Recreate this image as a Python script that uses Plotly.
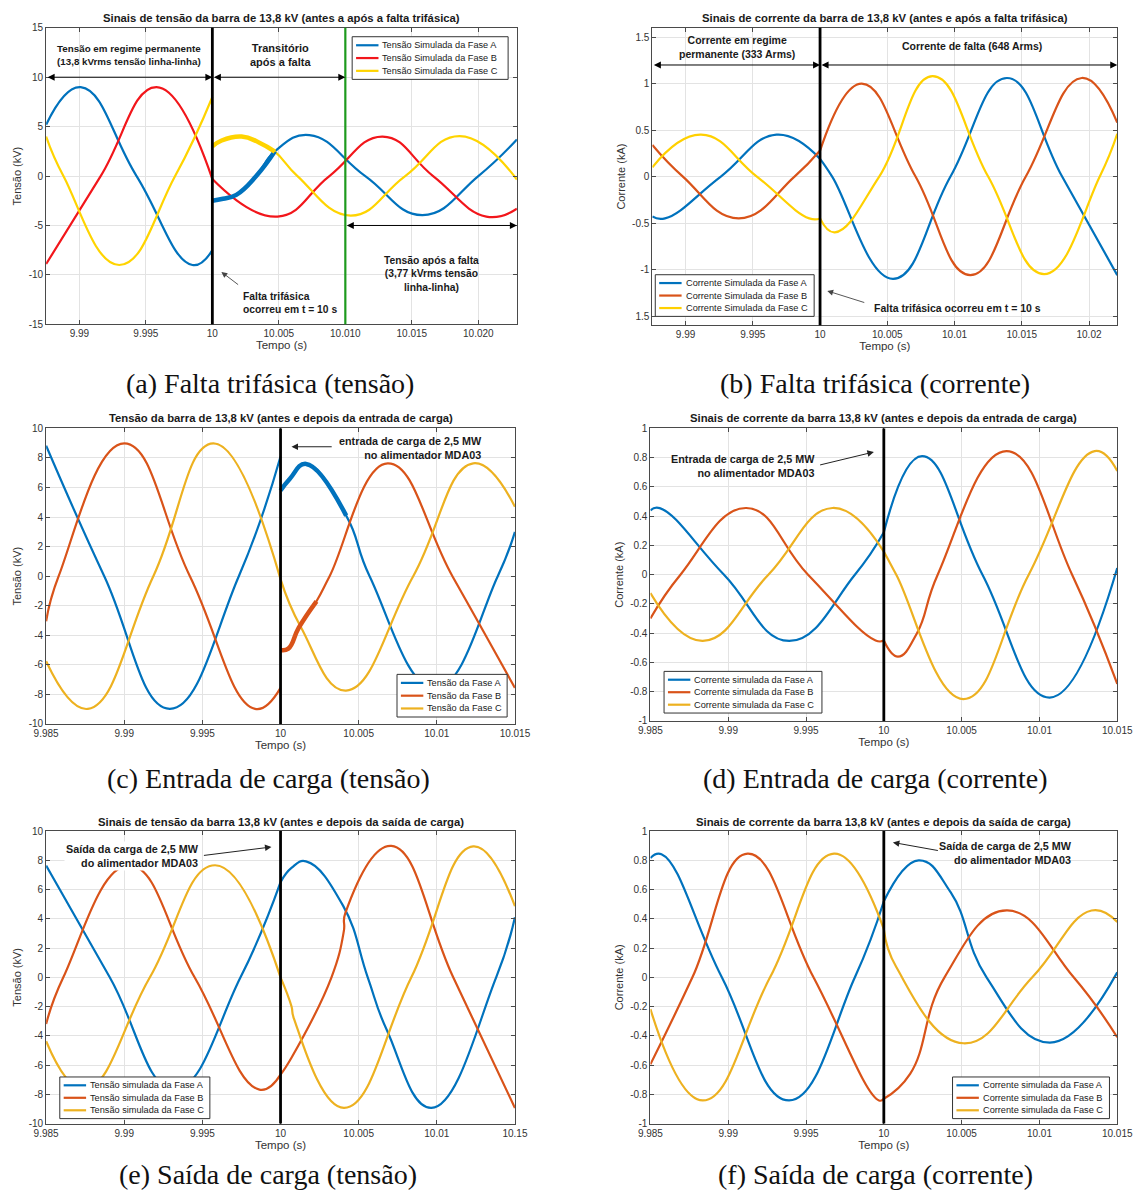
import plotly.graph_objects as go

W, H = 1143, 1197
FONT = "Liberation Sans, Arial, sans-serif"
SERIF = "Liberation Serif, Times New Roman, serif"

FAULT_T = 10.0          # instant of the event (s)
POST_FAULT_T = 10.010   # end of transient marker in (a)

# ------------------------------------------------------------------ data
# (a) three-phase fault, voltage (kV) -- (time s, value)
a_A_pre = [(9.9875, 5.2), (9.9901, 9.0), (9.9943, 0.0), (9.9985, -9.0), (10.0, -7.5)]
a_A_post = [(10.0, -2.5), (10.0008, -2.3), (10.0018, -1.9), (10.0033, 0.0), (10.0047, 2.5),
            (10.0073, 4.15), (10.0115, 0.0), (10.0158, -3.95), (10.0200, 0.0), (10.0229, 3.7)]
a_B_pre = [(9.9875, -8.9), (9.9916, 0.0), (9.9958, 9.0), (10.0, -0.3)]
a_B_post = [(10.0, -0.3), (10.0049, -4.1), (10.0088, 0.0), (10.0128, 4.0), (10.0166, 0.0),
            (10.0206, -4.1), (10.0229, -3.3)]
a_C_pre = [(9.9875, 4.0), (9.9888, 0.0), (9.9930, -9.0), (9.9972, 0.0), (10.0, 8.0)]
a_C_post = [(10.0, 3.0), (10.0007, 3.6), (10.0022, 4.0), (10.0035, 3.4), (10.0047, 2.47),
            (10.0064, 0.0), (10.0104, -4.0), (10.0145, 0.0), (10.0186, 4.05), (10.0229, -0.35)]

# (b) three-phase fault, current (kA)
b_A_pre = [(9.98753, -0.43), (9.98847, -0.45), (9.99262, 0.0), (9.99676, 0.45), (10.0, 0.19)]
b_A_post = [(10.0, 0.19), (10.0009, 0.0), (10.00543, -1.10), (10.0097, 0.0), (10.0139, 1.06),
            (10.0180, 0.0), (10.0221, -1.06)]
b_B_pre = [(9.98753, 0.34), (9.9898, 0.0), (9.99395, -0.45), (9.9981, 0.0), (10.0, 0.28)]
b_B_post = [(10.0, 0.28), (10.0031, 1.0), (10.0071, 0.0), (10.01117, -1.06), (10.0153, 0.0),
            (10.01946, 1.06), (10.0221, 0.58)]
b_C_pre = [(9.98753, 0.1), (9.99115, 0.45), (9.9953, 0.0), (9.9992, -0.45), (10.0, -0.45)]
b_C_post = [(10.0, -0.45), (10.0011, -0.6), (10.0044, 0.0), (10.00837, 1.08), (10.0125, 0.0),
            (10.01666, -1.05), (10.0208, 0.0), (10.0221, 0.46)]

# (c) load connection, voltage (kV)
c_A_pre = [(9.985, 8.83), (9.98872, 0.0), (9.99291, -8.98), (9.99733, 0.0), (10.0, 8.1)]
c_A_post = [(10.0, 5.8), (10.0006, 6.6), (10.00163, 7.6), (10.0042, 4.1), (10.0057, 0.0),
            (10.0099, -7.6), (10.0139, 0.0), (10.015, 3.0)]
c_B_pre = [(9.985, -3.05), (9.9858, 0.0), (9.99, 8.99), (9.9942, 0.0), (9.99837, -8.98), (10.0, -7.56)]
c_B_post = [(10.0, -5.0), (10.0005, -4.9), (10.00116, -3.5), (10.0023, -1.7), (10.00314, 0.0),
            (10.00686, 7.64), (10.0110, 0.0), (10.015, -7.56)]
c_C_pre = [(9.985, -5.76), (9.98767, -8.98), (9.99186, 0.0), (9.9957, 8.99), (10.0, -0.2)]
c_C_post = [(10.0, -0.2), (10.00128, -3.4), (10.00419, -7.74), (10.00849, 0.0), (10.01233, 7.64),
            (10.015, 4.7)]

# (d) load connection, current (kA)
d_A_pre = [(9.985, 0.44), (9.9856, 0.455), (9.98973, 0.0), (9.99392, -0.453), (9.99814, 0.0), (10.0, 0.29)]
d_A_post = [(10.0, 0.29), (10.00246, 0.81), (10.00634, 0.0), (10.01066, -0.84), (10.015, 0.046)]
d_B_pre = [(9.985, -0.30), (9.98693, 0.0), (9.99116, 0.456), (9.99513, 0.0), (9.99947, -0.45), (10.0, -0.45)]
d_B_post = [(10.0, -0.45), (10.00091, -0.56), (10.00213, -0.40), (10.00346, 0.0), (10.00789, 0.845),
            (10.0121, 0.0), (10.015, -0.747)]
d_C_pre = [(9.985, -0.126), (9.98837, -0.453), (9.99258, 0.0), (9.9967, 0.456), (10.0, 0.158)]
d_C_post = [(10.0, 0.158), (10.0008, 0.0), (10.00511, -0.85), (10.00931, 0.0), (10.01355, 0.845),
            (10.015, 0.709)]

# (e) load disconnection, voltage (kV)
e_A_pre = [(9.985, 7.64), (9.98907, 0.0), (9.9932, -7.65), (9.99744, 0.0), (10.0, 6.5)]
e_A_post = [(10.0, 6.5), (10.0007, 7.48), (10.00163, 7.93), (10.0040, 4.9), (10.00558, 0.0),
            (10.0068, -3.6), (10.00965, -8.93), (10.0138, 0.0), (10.015, 4.11)]
e_B_pre = [(9.985, -3.19), (9.9861, 0.0), (9.9903, 7.65), (9.9945, 0.0), (9.99865, -7.68), (10.0, -6.65)]
e_B_post = [(10.0, -6.65), (10.0007, -5.5), (10.00326, 0.0), (10.00405, 3.16), (10.00415, 4.4),
            (10.00709, 8.98), (10.01105, 0.0), (10.015, -8.93)]
e_C_pre = [(9.985, -4.37), (9.98747, -7.65), (9.99164, 0.0), (9.99581, 7.66), (10.0, 0.0)]
e_C_post = [(10.0, 0.0), (10.0007, -1.98), (10.00085, -2.8), (10.00407, -8.93), (10.00837, 0.0),
            (10.01233, 8.95), (10.015, 4.86)]

# (f) load disconnection, current (kA)
f_A_pre = [(9.985, 0.815), (9.98571, 0.842), (9.98959, 0.0), (9.99391, -0.842), (9.99814, 0.0), (10.0, 0.52)]
f_A_post = [(10.0, 0.52), (10.00224, 0.80), (10.0043, 0.58), (10.0066, 0.0), (10.01067, -0.446),
            (10.015, 0.034)]
f_B_pre = [(9.985, -0.595), (9.9877, 0.0), (9.99125, 0.845), (9.99548, 0.0), (9.99969, -0.842), (10.0, -0.83)]
f_B_post = [(10.0, -0.83), (10.00169, -0.66), (10.0039, 0.0), (10.00789, 0.457), (10.0122, 0.0),
            (10.015, -0.41)]
f_C_pre = [(9.985, -0.217), (9.98837, -0.842), (9.99269, 0.0), (9.9968, 0.845), (10.0, 0.33)]
f_C_post = [(10.0, 0.33), (10.0008, 0.07), (10.00512, -0.451), (10.00954, 0.0), (10.01335, 0.457),
            (10.015, 0.378)]

# ticks
a_xticks = [9.99, 9.995, 10.0, 10.005, 10.010, 10.015, 10.020]
a_xlabels = ["9.99", "9.995", "10", "10.005", "10.010", "10.015", "10.020"]
a_yticks = [-15, -10, -5, 0, 5, 10, 15]
a_ylabels = ["-15", "-10", "-5", "0", "5", "10", "15"]
b_xticks = [9.99, 9.995, 10.0, 10.005, 10.01, 10.015, 10.02]
b_xlabels = ["9.99", "9.995", "10", "10.005", "10.01", "10.015", "10.02"]
b_yticks = [-1.5, -1, -0.5, 0, 0.5, 1, 1.5]
b_ylabels = ["1.5", "-1", "-0.5", "0", "0.5", "1", "1.5"]
cdf_xticks = [9.985, 9.99, 9.995, 10.0, 10.005, 10.01, 10.015]
cdf_xlabels = ["9.985", "9.99", "9.995", "10", "10.005", "10.01", "10.015"]
e_xlabels = ["9.985", "9.99", "9.995", "10", "10.005", "10.01", "10.15"]
ce_yticks = [-10, -8, -6, -4, -2, 0, 2, 4, 6, 8, 10]
ce_ylabels = ["-10", "-8", "-6", "-4", "-2", "0", "2", "4", "6", "8", "10"]
df_yticks = [-1, -0.8, -0.6, -0.4, -0.2, 0, 0.2, 0.4, 0.6, 0.8, 1]
df_ylabels = ["-1", "-0.8", "-0.6", "-0.4", "-0.2", "0", "0.2", "0.4", "0.6", "0.8", "1"]

titles = {
    "a": "Sinais de tensão da barra de 13,8 kV (antes a após a falta trifásica)",
    "b": "Sinais de corrente da barra de 13,8 kV (antes e após a falta trifásica)",
    "c": "Tensão da barra de 13,8 kV (antes e depois da entrada de carga)",
    "d": "Sinais de corrente da barra 13,8 kV (antes e depois da entrada de carga)",
    "e": "Sinais de tensão da barra 13,8 kV (antes e depois da saída de carga)",
    "f": "Sinais de corrente da barra 13,8 kV (antes e depois da saída de carga)",
}
captions = {
    "a": "(a) Falta trifásica (tensão)",
    "b": "(b) Falta trifásica (corrente)",
    "c": "(c) Entrada de carga (tensão)",
    "d": "(d) Entrada de carga (corrente)",
    "e": "(e) Saída de carga (tensão)",
    "f": "(f) Saída de carga (corrente)",
}
names = {
    "a": ["Tensão Simulada da Fase A", "Tensão Simulada da Fase B", "Tensão Simulada da Fase C"],
    "b": ["Corrente Simulada da Fase A", "Corrente Simulada da Fase B", "Corrente Simulada da Fase C"],
    "c": ["Tensão da Fase A", "Tensão da Fase B", "Tensão da Fase C"],
    "d": ["Corrente simulada da Fase A", "Corrente simulada da Fase B", "Corrente simulada da Fase C"],
    "e": ["Tensão simulada da Fase A", "Tensão simulada da Fase B", "Tensão simulada da Fase C"],
    "f": ["Corrente simulada da Fase A", "Corrente simulada da Fase B", "Corrente simulada da Fase C"],
}

MATLAB = ["#0072BD", "#D95319", "#EDB120"]
colors = {
    "a": ["#0072BD", "#F2161B", "#FFD400"],
    "b": ["#0072BD", "#D95319", "#FFD000"],
    "c": MATLAB, "d": MATLAB, "e": MATLAB, "f": MATLAB,
}

series = {
    "a": [(a_A_pre, a_A_post), (a_B_pre, a_B_post), (a_C_pre, a_C_post)],
    "b": [(b_A_pre, b_A_post), (b_B_pre, b_B_post), (b_C_pre, b_C_post)],
    "c": [(c_A_pre, c_A_post), (c_B_pre, c_B_post), (c_C_pre, c_C_post)],
    "d": [(d_A_pre, d_A_post), (d_B_pre, d_B_post), (d_C_pre, d_C_post)],
    "e": [(e_A_pre, e_A_post), (e_B_pre, e_B_post), (e_C_pre, e_C_post)],
    "f": [(f_A_pre, f_A_post), (f_B_pre, f_B_post), (f_C_pre, f_C_post)],
}
# noisy transient portions (panel, phase index, number of leading post points)
noisy = [("a", 0, 5), ("a", 2, 5), ("c", 0, 4), ("c", 1, 4)]

# ------------------------------------------------------------------ layout geometry (pixels)
panels = {
    "a": dict(n=1, box=(34, 517, 23, 322), xr=[9.9875, 10.0229], yr=[-15, 15],
              xt=a_xticks, xl=a_xlabels, yt=a_yticks, yl=a_ylabels, yt_title="Tensão (kV)"),
    "b": dict(n=2, box=(656, 1133, 23, 323), xr=[9.98753, 10.0221], yr=[-1.6, 1.6],
              xt=b_xticks, xl=b_xlabels, yt=b_yticks, yl=b_ylabels, yt_title="Corrente (kA)"),
    "c": dict(n=3, box=(34, 515, 427, 725), xr=[9.985, 10.015], yr=[-10, 10],
              xt=cdf_xticks, xl=cdf_xlabels, yt=ce_yticks, yl=ce_ylabels, yt_title="Tensão (kV)"),
    "d": dict(n=4, box=(654, 1133, 427, 722), xr=[9.985, 10.015], yr=[-1, 1],
              xt=cdf_xticks, xl=cdf_xlabels, yt=df_yticks, yl=df_ylabels, yt_title="Corrente (kA)"),
    "e": dict(n=5, box=(34, 515, 833, 1128), xr=[9.985, 10.015], yr=[-10, 10],
              xt=cdf_xticks, xl=e_xlabels, yt=ce_yticks, yl=ce_ylabels, yt_title="Tensão (kV)"),
    "f": dict(n=6, box=(654, 1133, 833, 1128), xr=[9.985, 10.015], yr=[-1, 1],
              xt=cdf_xticks, xl=cdf_xlabels, yt=df_yticks, yl=df_ylabels, yt_title="Corrente (kA)"),
}
title_y = {"a": 13, "b": 13, "c": 416, "d": 416, "e": 824, "f": 824}
caption_pos = {"a": (264, 382), "b": (884, 382), "c": (262, 780), "d": (885, 780),
               "e": (262, 1179), "f": (885, 1179)}
legend_box = {  # pixel x0, x1, y0, y1
    "a": (348, 508, 32, 75),
    "b": (659, 822, 272, 314),
    "c": (394, 507, 675, 718),
    "d": (668, 830, 672, 714),
    "e": (48, 202, 1081, 1123),
    "f": (964, 1125, 1081, 1123),
}


def ref(n):
    return ("x" if n == 1 else f"x{n}"), ("y" if n == 1 else f"y{n}")


def px(x):
    return x / W


def py(y):
    return 1 - y / H


fig = go.Figure()
layout = dict(width=W, height=H, margin=dict(l=0, r=0, t=0, b=0),
              paper_bgcolor="white", plot_bgcolor="white", showlegend=False,
              hovermode=False)
annotations = []
shapes = []

for key, p in panels.items():
    n = p["n"]
    xr_, yr_ = ref(n)
    x0, x1, y0, y1 = p["box"]
    # traces
    for i, (pre, post) in enumerate(series[key]):
        for seg in (pre, post):
            fig.add_trace(go.Scatter(
                x=[q[0] for q in seg], y=[q[1] for q in seg], mode="lines",
                line=dict(color=colors[key][i], width=2.2, shape="spline", smoothing=1.3),
                name=names[key][i], showlegend=False, xaxis=xr_, yaxis=yr_))
    for (k, i, m) in noisy:
        if k == key:
            seg = series[key][i][1][:m]
            fig.add_trace(go.Scatter(
                x=[q[0] for q in seg], y=[q[1] for q in seg], mode="lines",
                line=dict(color=colors[key][i], width=4.5, shape="spline", smoothing=1.3),
                showlegend=False, xaxis=xr_, yaxis=yr_))
    # axes
    axcommon = dict(showline=True, mirror="ticks", linecolor="#4a4a4a", linewidth=1,
                    ticks="inside", ticklen=4, tickcolor="#4a4a4a", showgrid=True,
                    gridcolor="#e3e3e3", gridwidth=1, zeroline=False,
                    tickfont=dict(family=FONT, size=10, color="#333333"))
    xa = "xaxis" if n == 1 else f"xaxis{n}"
    ya = "yaxis" if n == 1 else f"yaxis{n}"
    layout[xa] = dict(axcommon, domain=[px(x0), px(x1)], range=p["xr"], anchor=yr_,
                      tickmode="array", tickvals=p["xt"], ticktext=p["xl"],
                      title=dict(text="Tempo (s)", standoff=2,
                                 font=dict(family=FONT, size=11.5, color="#333333")))
    layout[ya] = dict(axcommon, domain=[py(y1), py(y0)], range=p["yr"], anchor=xr_,
                      tickmode="array", tickvals=p["yt"], ticktext=p["yl"],
                      title=dict(text=p["yt_title"], standoff=4,
                                 font=dict(family=FONT, size=11, color="#333333")))
    # event line
    shapes.append(dict(type="line", xref=xr_, yref=f"{yr_} domain", x0=FAULT_T, x1=FAULT_T,
                       y0=0, y1=1, line=dict(color="black", width=2.8), layer="above"))
    # title & caption
    annotations.append(dict(xref="paper", yref="paper", x=px((x0 + x1) / 2), y=py(title_y[key]),
                            text=f"<b>{titles[key]}</b>", showarrow=False, xanchor="center",
                            yanchor="middle", font=dict(family=FONT, size=11.3, color="#1a1a1a")))
    cx, cy = caption_pos[key]
    annotations.append(dict(xref="paper", yref="paper", x=px(cx), y=py(cy),
                            text=captions[key], showarrow=False, xanchor="center", yanchor="middle",
                            font=dict(family=SERIF, size=28, color="#111111")))
    # hand-drawn legend box (compact MATLAB style)
    lx0, lx1, ly0, ly1 = legend_box[key]
    shapes.append(dict(type="rect", xref="paper", yref="paper", x0=px(lx0), x1=px(lx1),
                       y0=py(ly1), y1=py(ly0), line=dict(color="#333333", width=1),
                       fillcolor="white", layer="above"))
    hgt = ly1 - ly0
    for i in range(3):
        ry = ly0 + hgt * (0.2 + 0.3 * i)
        shapes.append(dict(type="line", xref="paper", yref="paper", x0=px(lx0 + 4), x1=px(lx0 + 27),
                           y0=py(ry), y1=py(ry), line=dict(color=colors[key][i], width=2.2),
                           layer="above"))
        annotations.append(dict(xref="paper", yref="paper", x=px(lx0 + 29), y=py(ry),
                                text=names[key][i], showarrow=False, xanchor="left",
                                yanchor="middle",
                                font=dict(family=FONT, size=9.2, color="#1a1a1a")))

# green end-of-transient line in (a)
shapes.append(dict(type="line", xref="x", yref="y domain", x0=POST_FAULT_T, x1=POST_FAULT_T,
                   y0=0, y1=1, line=dict(color="#1E9A1E", width=2.2), layer="above"))


def txt(n, x, y, text, size=10.5, xanchor="center", align="center", bg=None):
    xr_, yr_ = ref(n)
    d = dict(xref=xr_, yref=yr_, x=x, y=y, text=text, showarrow=False, xanchor=xanchor,
             yanchor="middle", align=align, font=dict(family=FONT, size=size, color="#1a1a1a"))
    if bg:
        d["bgcolor"] = bg
    return d


def arrow(n, xh, yh, xt, yt, both=False, color="#222222", width=1.0, size=1.4):
    xr_, yr_ = ref(n)
    d = dict(xref=xr_, yref=yr_, x=xh, y=yh, ax=xt, ay=yt, axref=xr_, ayref=yr_, text="",
             showarrow=True, arrowhead=2, arrowsize=size, arrowwidth=width, arrowcolor=color,
             standoff=0, startstandoff=0)
    if both:
        d.update(arrowside="end+start", startarrowhead=2, startarrowsize=size)
    return d


ax_a = panels["a"]["xr"]
ax_b = panels["b"]["xr"]
annotations += [
    # (a)
    txt(1, 9.9937, 12.2, "<b>Tensão em regime permanente<br>(13,8 kVrms tensão linha-linha)</b>", 9.8),
    txt(1, 10.00515, 12.2, "<b>Transitório<br>após a falta</b>", 11),
    arrow(1, FAULT_T, 10, ax_a[0], 10, both=True, color="black"),
    arrow(1, POST_FAULT_T, 10, FAULT_T, 10, both=True, color="black"),
    arrow(1, ax_a[1], -5, POST_FAULT_T, -5, both=True, color="black"),
    txt(1, 10.0165, -9.86, "<b>Tensão após a falta<br>(3,77 kVrms tensão<br>linha-linha)</b>", 10.3),
    txt(1, 10.00214, -12.83, "<b>Falta trifásica<br>ocorreu em t = 10 s</b>", 10.3, "left", "left"),
    arrow(1, 10.00068, -9.7, 10.00205, -11.1, color="#444444", width=0.9, size=1.3),
    # (b)
    txt(2, 9.99383, 1.39, "<b>Corrente em regime<br>permanente (333 Arms)</b>", 10.5),
    txt(2, 10.0113, 1.40, "<b>Corrente de falta (648 Arms)</b>", 10.5),
    arrow(2, FAULT_T, 1.2, ax_b[0], 1.2, both=True, color="black"),
    arrow(2, ax_b[1], 1.2, FAULT_T, 1.2, both=True, color="black"),
    txt(2, 10.0039, -1.41, "<b>Falta trifásica ocorreu em t = 10 s</b>", 10.5, "left", "left"),
    arrow(2, 10.00054, -1.23, 10.0034, -1.36, color="#444444", width=0.9, size=1.3),
    # (c)
    txt(3, 10.01302, 8.7, "<b>entrada de carga de 2,5 MW<br>no alimentador MDA03</b>", 10.8, "right", "right"),
    arrow(3, 10.0007, 8.76, 10.00337, 8.76, color="#222222", width=1.0, size=1.3),
    # (d)
    txt(4, 9.9957, 0.742, "<b>Entrada de carga de 2,5 MW<br>no alimentador MDA03</b>", 10.8, "right", "right"),
    arrow(4, 9.99936, 0.839, 9.99581, 0.748, color="#222222", width=1.0, size=1.3),
    # (e)
    txt(5, 9.99488, 8.27, "<b>Saída da carga de 2,5 MW<br>do alimentador MDA03</b>", 10.8, "right", "right", bg="white"),
    arrow(5, 9.99942, 8.91, 9.995, 8.32, color="#222222", width=1.0, size=1.3),
    # (f)
    txt(6, 10.01222, 0.853, "<b>Saída de carga de 2,5 MW<br>do alimentador MDA03</b>", 10.8, "right", "right"),
    arrow(6, 10.00058, 0.922, 10.00357, 0.865, color="#222222", width=1.0, size=1.3),
]

layout["annotations"] = annotations
layout["shapes"] = shapes
fig.update_layout(**layout)
fig.write_html("out.html", config={"displayModeBar": False},
               post_script="document.body.style.margin='0px';")
